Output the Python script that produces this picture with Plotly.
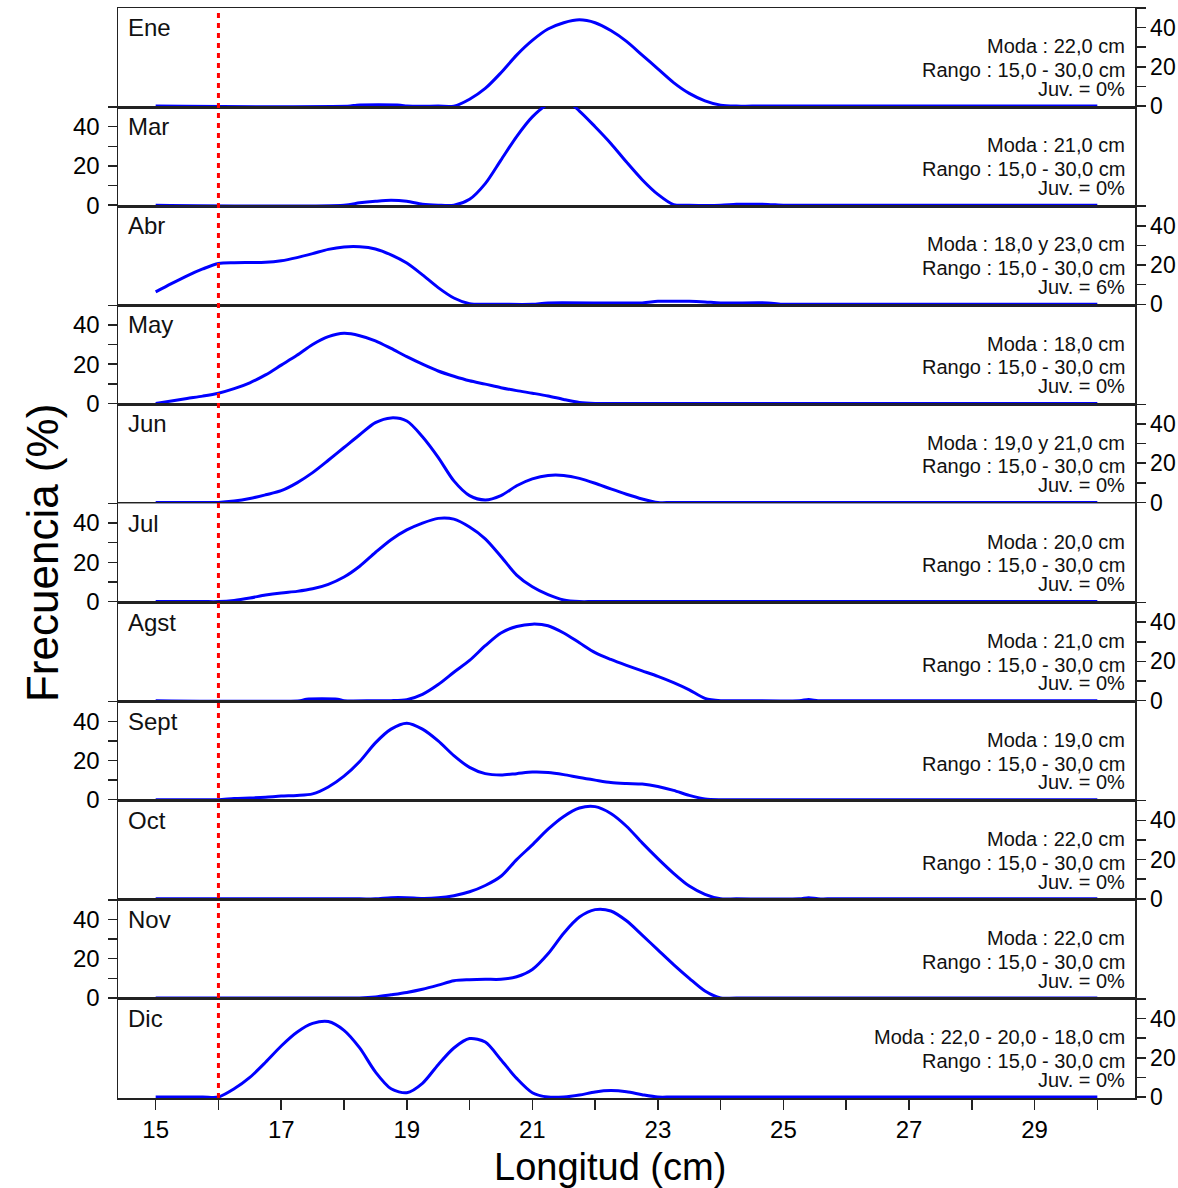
import plotly.graph_objects as go
from plotly.subplots import make_subplots

MESES = ["Ene", "Mar", "Abr", "May", "Jun", "Jul", "Agst", "Sept", "Oct", "Nov", "Dic"]
MODAS = ["22,0 cm", "21,0 cm", "18,0 y 23,0 cm", "18,0 cm", "19,0 y 21,0 cm", "20,0 cm",
         "21,0 cm", "19,0 cm", "22,0 cm", "22,0 cm", "22,0 - 20,0 - 18,0 cm"]
JUVENILES = ["0%", "0%", "6%", "0%", "0%", "0%", "0%", "0%", "0%", "0%", "0%"]
RANGO = "15,0 - 30,0 cm"

X_TICKS = [15, 16, 17, 18, 19, 20, 21, 22, 23, 24, 25, 26, 27, 28, 29, 30]
X_LABELS = ["15", "", "17", "", "19", "", "21", "", "23", "", "25", "", "27", "", "29", ""]
Y_TICKS = [0, 10, 20, 30, 40, 50]
Y_LABELS = ["0", "", "20", "", "40", ""]
TALLA_JUV = 16

ENE_X = [15, 18.1, 18.2, 18.9, 19.0, 19.5, 19.75, 20.0, 20.25, 20.5, 20.75, 21.0, 21.25, 21.5,
         21.75, 22.0, 22.25, 22.5, 22.75, 23.0, 23.25, 23.5, 23.75, 24.0, 24.25, 24.5, 30]
ENE_Y = [0, 0, 0.5, 0.5, 0, 0, 0, 3.5, 9, 17, 26, 33.5, 39.3, 42.5,
         44, 42.5, 38.5, 33, 26, 19, 12, 6.5, 2.7, 0.5, 0, 0, 0]

MAR_X = [15, 18.0, 18.25, 18.5, 18.75, 19.0, 19.25, 19.5, 19.75, 20.0, 20.25, 20.5, 20.75, 21.0,
         21.25, 21.5, 21.75, 22.0, 22.25, 22.5, 22.75, 23.0, 23.25, 23.5, 24.0, 24.25, 24.5,
         24.75, 25.0, 25.25, 30]
MAR_Y = [0, 0, 1.2, 2.0, 2.5, 2.0, 0.5, 0, 0, 3, 11, 23, 35, 45,
         51.5, 54, 48, 40, 31.5, 22, 13, 5.5, 0.3, 0, 0, 0.5, 0.5,
         0.4, 0, 0, 0]

ABR_X = [15.0, 15.25, 15.5, 15.75, 16.0, 16.25, 16.5, 16.75, 17.0, 17.25, 17.5, 17.75, 18.0,
         18.25, 18.5, 18.75, 19.0, 19.25, 19.5, 19.75, 20.0, 20.25, 20.5, 21.0, 21.25, 22.75,
         23.0, 23.5, 23.75, 24.0, 24.75, 25.0, 25.25, 30]
ABR_Y = [6.3, 10.5, 14.5, 18, 20.8, 21.2, 21.3, 21.4, 22.2, 23.8, 25.8, 28, 29.2,
         29.3, 28.2, 25.2, 21, 15, 8.5, 3.2, 0.3, 0, 0, 0, 0.7, 0.7,
         1.5, 1.5, 1.2, 0.7, 0.7, 0, 0, 0]

MAY_X = [15.0, 15.25, 15.5, 15.75, 16.0, 16.25, 16.5, 16.75, 17.0, 17.25, 17.5, 17.75, 18.0,
         18.25, 18.5, 18.75, 19.0, 19.25, 19.5, 19.75, 20.0, 20.25, 20.5, 20.75, 21.0, 21.25,
         21.5, 21.75, 22.0, 22.25, 30]
MAY_Y = [0, 1.2, 2.5, 3.7, 5.2, 7.5, 10.5, 14.5, 19.5, 24.5, 30, 34, 35.7,
         34.5, 31.9, 28, 23.8, 20, 16.5, 13.8, 11.5, 9.8, 8, 6.5, 5.2, 3.8,
         2.0, 0.5, 0, 0, 0]

JUN_X = [15, 15.75, 16.0, 16.25, 16.5, 16.75, 17.0, 17.25, 17.5, 17.75, 18.0, 18.25, 18.5, 18.75,
         19.0, 19.25, 19.5, 19.75, 20.0, 20.25, 20.5, 20.75, 21.0, 21.25, 21.5, 21.75, 22.0,
         22.25, 22.5, 22.75, 23.0, 23.25, 30]
JUN_Y = [0, 0, 0, 0.7, 2, 3.9, 6, 10, 15.2, 21.5, 28, 34.5, 40.7, 43.1,
         41.5, 33.5, 23, 11, 3.5, 1.3, 3.5, 8.5, 12, 13.8, 13.8, 12.3, 9.8,
         6.9, 4.2, 1.8, 0, 0, 0]

JUL_X = [15, 15.75, 16.0, 16.25, 16.5, 16.75, 17.0, 17.25, 17.5, 17.75, 18.0, 18.25, 18.5, 18.75,
         19.0, 19.25, 19.5, 19.75, 20.0, 20.25, 20.5, 20.75, 21.0, 21.25, 21.5, 21.75, 22.0, 30]
JUL_Y = [0, 0, 0, 0.6, 1.8, 3.3, 4.4, 5.2, 6.5, 8.8, 12.5, 18, 25, 31.5,
         36.5, 40, 42.4, 42, 38, 32, 23, 13.5, 7.5, 3.5, 0.8, 0, 0, 0]

AGST_X = [15, 17.3, 17.4, 17.9, 18.0, 18.5, 18.75, 19.0, 19.25, 19.5, 19.75, 20.0, 20.25, 20.5,
          20.75, 21.0, 21.25, 21.5, 21.75, 22.0, 22.25, 22.5, 22.75, 23.0, 23.25, 23.5, 23.75,
          24.0, 24.25, 25.25, 25.4, 25.55, 25.7, 30]
AGST_Y = [0, 0, 0.7, 0.7, 0, 0, 0, 0.5, 3.2, 8.2, 14.5, 20.5, 28, 34.5,
          37.8, 39, 38.2, 34.5, 29.5, 24.5, 21, 18, 15.2, 12.4, 9.2, 5.5, 1.2,
          0, 0, 0, 0.6, 0, 0, 0]

SEPT_X = [15, 15.75, 16.0, 16.25, 16.5, 16.75, 17.0, 17.25, 17.5, 17.75, 18.0, 18.25, 18.5, 18.75,
          19.0, 19.25, 19.5, 19.75, 20.0, 20.25, 20.5, 20.75, 21.0, 21.25, 21.5, 21.75, 22.0,
          22.25, 22.5, 22.75, 23.0, 23.25, 23.5, 23.75, 24.0, 24.25, 30]
SEPT_Y = [0, 0, 0, 0.6, 0.9, 1.3, 1.9, 2.2, 3.0, 6.5, 12, 19.5, 29, 36,
          39, 36, 30, 22.5, 16.5, 13.3, 12.6, 13.3, 14.1, 13.9, 12.8, 11.3, 10,
          8.8, 8.3, 8.0, 6.8, 4.8, 2.2, 0.4, 0, 0, 0]

OCT_X = [15, 18.25, 18.5, 18.75, 19.0, 19.25, 19.5, 19.75, 20.0, 20.25, 20.5, 20.75, 21.0, 21.25,
         21.5, 21.75, 22.0, 22.25, 22.5, 22.75, 23.0, 23.25, 23.5, 23.75, 24.0, 24.25, 25.25,
         25.4, 25.55, 25.7, 30]
OCT_Y = [0, 0, 0, 0.6, 0.6, 0.2, 0.5, 1.6, 3.6, 6.8, 11.5, 20, 27.5, 35.5,
         42, 46.3, 47, 43.5, 37, 28.5, 20.5, 13, 6.5, 2.3, 0, 0, 0,
         0.6, 0, 0, 0]

NOV_X = [15, 18.0, 18.25, 18.5, 18.75, 19.0, 19.25, 19.5, 19.75, 20.0, 20.25, 20.5, 20.75, 21.0,
         21.25, 21.5, 21.75, 22.0, 22.25, 22.5, 22.75, 23.0, 23.25, 23.5, 23.75, 24.0, 24.25, 30]
NOV_Y = [0, 0, 0, 0.5, 1.6, 2.8, 4.4, 6.5, 8.8, 9.3, 9.5, 9.5, 10.8, 14.5,
         22.5, 33, 41.2, 45, 44.3, 39.3, 32, 24.5, 17, 10, 3.5, 0, 0, 0]

DIC_X = [15, 15.75, 16.0, 16.25, 16.5, 16.75, 17.0, 17.25, 17.5, 17.75, 18.0, 18.25, 18.5, 18.75,
         19.0, 19.25, 19.5, 19.75, 20.0, 20.25, 20.5, 20.75, 21.0, 21.25, 21.5, 21.75, 22.0,
         22.25, 22.5, 22.75, 23.0, 23.25, 30]
DIC_Y = [0, 0, 0, 4.2, 10, 17.7, 26, 33, 37.5, 38.5, 34, 25, 12.8, 4.2,
         2.2, 7, 16.5, 25, 29.8, 28, 19, 9.5, 2.2, 0, 0, 1, 2.6,
         3.3, 2.7, 1.2, 0, 0, 0]

SERIES = [(ENE_X, ENE_Y), (MAR_X, MAR_Y), (ABR_X, ABR_Y), (MAY_X, MAY_Y), (JUN_X, JUN_Y),
          (JUL_X, JUL_Y), (AGST_X, AGST_Y), (SEPT_X, SEPT_Y), (OCT_X, OCT_Y), (NOV_X, NOV_Y),
          (DIC_X, DIC_Y)]

FONT = "Liberation Sans, Arial, sans-serif"
AXC = "#222222"
n = len(MESES)
fig = make_subplots(rows=n, cols=1, shared_xaxes=True, vertical_spacing=0)

annotations = []
for i, (xs, ys) in enumerate(SERIES):
    r = i + 1
    fig.add_trace(go.Scatter(x=xs, y=ys, mode="lines",
                             line=dict(color="#0000FF", width=3, shape="spline", smoothing=0.8),
                             hoverinfo="skip", showlegend=False), row=r, col=1)
    right = (i % 2 == 0)
    fig.update_yaxes(row=r, col=1, range=[-0.5, 50], tickvals=Y_TICKS, ticktext=Y_LABELS,
                     ticks="outside", ticklen=9, tickwidth=1.5, tickcolor=AXC,
                     side="right" if right else "left", showline=True, linecolor=AXC,
                     linewidth=1.5, mirror=True,
                     showgrid=False, zeroline=False, fixedrange=True, automargin=False,
                     layer="below traces", ticklabelstandoff=0 if right else 3,
                     tickfont=dict(size=23 if right else 24, color="black", family=FONT))
    fig.update_xaxes(row=r, col=1, range=[14.4, 30.6], showline=True, linecolor=AXC,
                     linewidth=1.5, mirror=True, showgrid=False, zeroline=False,
                     ticks="", showticklabels=False, automargin=False, layer="below traces")
    xref = "x" if r == 1 else f"x{r}"
    yref = "y" if r == 1 else f"y{r}"
    annotations.append(dict(x=14.527, y=40, xref=xref, yref=yref, text=MESES[i],
                            showarrow=False, xanchor="left", yanchor="middle",
                            font=dict(size=24, color="#111", family=FONT)))
    for txt, yy in ((f"Moda : {MODAS[i]}", 30.5), (f"Rango : {RANGO}", 18.4),
                    (f"Juv. = {JUVENILES[i]}", 8.8)):
        annotations.append(dict(x=30.47, y=yy, xref=xref, yref=yref, text=txt,
                                showarrow=False, xanchor="right", yanchor="middle",
                                font=dict(size=20, color="#111", family=FONT)))

fig.update_xaxes(row=n, col=1, ticks="outside", ticklen=10, tickwidth=1.5, tickcolor=AXC,
                 tickvals=X_TICKS, ticktext=X_LABELS, showticklabels=True,
                 tickfont=dict(size=24, color="black", family=FONT))

annotations.append(dict(x=0.484, y=-0.063, xref="paper", yref="paper", text="Longitud (cm)",
                        showarrow=False, xanchor="center", yanchor="middle",
                        font=dict(size=38, color="black", family=FONT)))
annotations.append(dict(x=-0.0747, y=0.5, xref="paper", yref="paper", text="Frecuencia (%)",
                        showarrow=False, xanchor="center", yanchor="middle", textangle=-90,
                        font=dict(size=44, color="black", family=FONT)))

fig.add_shape(type="line", xref="x", yref="paper", x0=TALLA_JUV, x1=TALLA_JUV, y0=0, y1=1,
              line=dict(color="#FF0000", width=3, dash="5px,5px"), layer="above")

fig.update_layout(width=1178, height=1188, margin=dict(l=118, r=43, t=8, b=90, autoexpand=False),
                  plot_bgcolor="white", paper_bgcolor="white", hovermode=False,
                  annotations=annotations, font=dict(family=FONT, color="black"))

# remove the default 8px page margin so the figure fills the window exactly
fig.write_html("out.html", config={"displayModeBar": False, "staticPlot": True},
               post_script="document.body.style.margin='0';document.body.style.overflow='hidden';")
